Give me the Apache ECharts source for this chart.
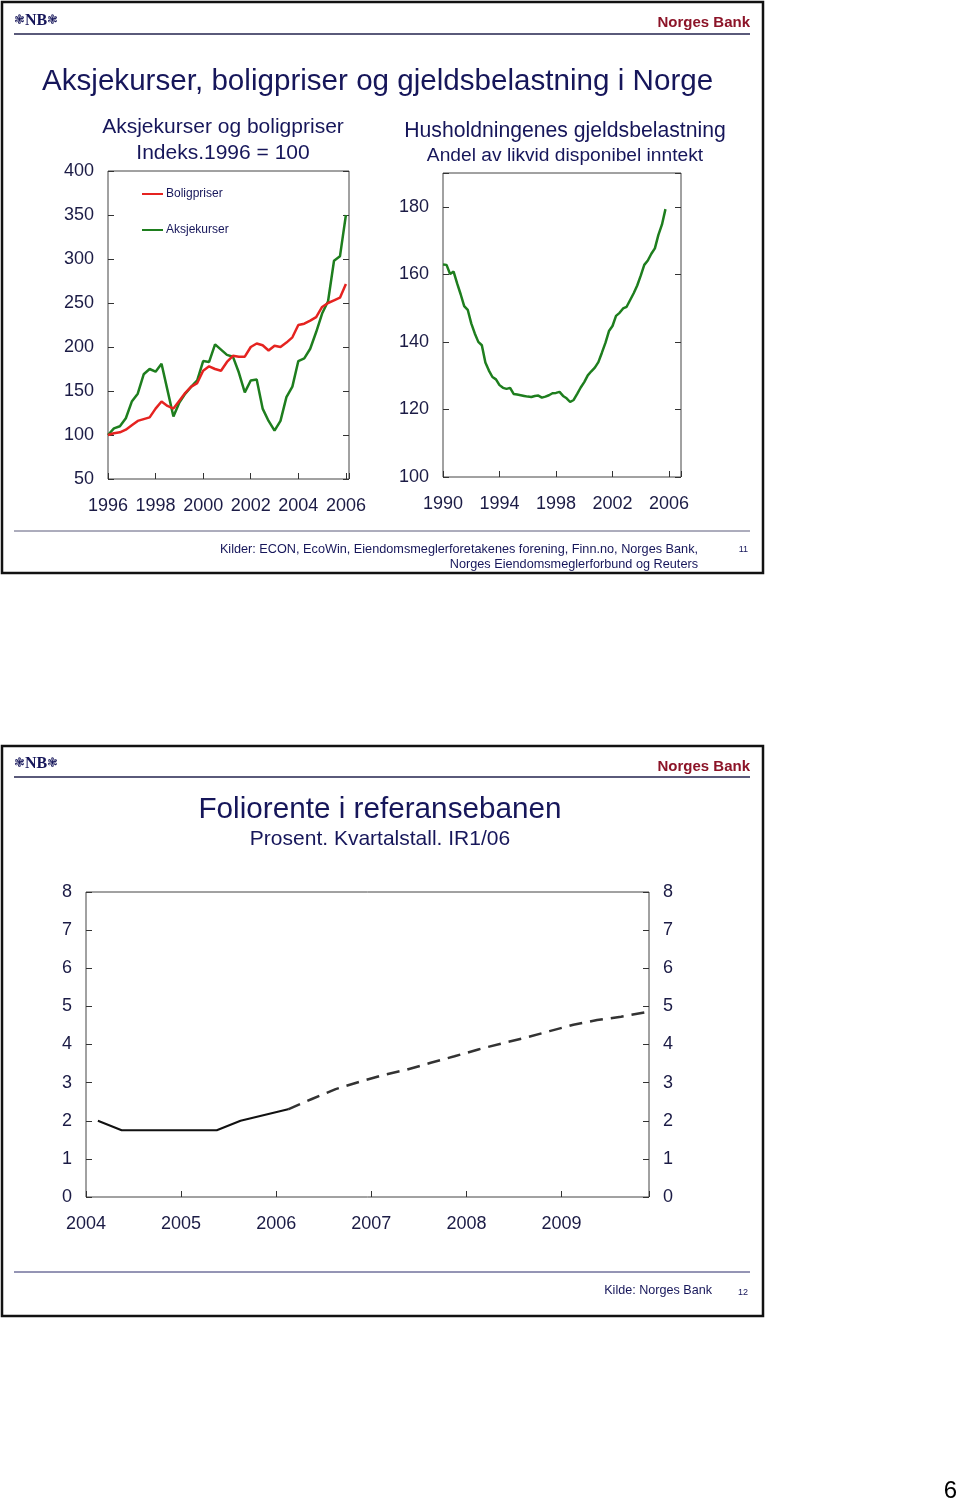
<!DOCTYPE html>
<html>
<head>
<meta charset="utf-8">
<title>Aksjekurser, boligpriser og foliorente</title>
<script src="https://cdn.jsdelivr.net/npm/echarts@6/dist/echarts.min.js"></script>
<style>
  html, body { margin: 0; padding: 0; background: #fff; }
  #main { width: 960px; height: 1501px; }
</style>
</head>
<body>
<div id="main"></div>
<script type="text/javascript">
// lysbilde 11: indeks 1996 = 100, kvartalstall 1996K1 - 2006K1
var boligpriser = [100, 102, 103, 106, 111, 116, 118, 120, 130, 138,
  133, 130, 139, 148, 155, 159, 173, 178, 175, 173,
  183, 190, 189, 189, 200, 204, 202, 196, 201.5, 200,
  205, 211, 225, 226.5, 230, 234, 245.5, 250, 253, 256, 271.5];
var aksjekurser = [100, 107.6, 110, 119, 138, 147, 169, 175, 172, 181,
  151, 121, 137, 147, 155, 162, 184, 183, 203, 197,
  191, 189, 171, 148.5, 162, 163, 130, 116, 105, 116,
  143, 155, 184, 187, 198, 217, 238, 252, 298, 303, 350];

// gjeldsbelastning, prosent av likvid disponibel inntekt, 1990K1 - 2005K4
var gjeld = [162.9, 162.8, 160.1, 160.8, 157.3, 154.1, 150.6, 149.5, 145.5, 142.5,
  140.0, 139.0, 133.9, 131.5, 129.6, 128.9, 127.2, 126.4, 126.1, 126.4,
  124.6, 124.4, 124.2, 124.0, 123.8, 123.7, 124.0, 124.1, 123.5, 123.8,
  124.2, 124.8, 124.9, 125.2, 124.0, 123.3, 122.2, 122.8, 124.6, 126.5,
  128.1, 130.1, 131.3, 132.4, 134.0, 136.8, 139.7, 143.2, 144.7, 147.7,
  148.6, 149.9, 150.4, 152.4, 154.4, 156.7, 159.6, 162.8, 164.1, 166.1,
  167.7, 171.7, 174.7, 179.3];

// lysbilde 12: foliorente, 2004K1 - 2009K4 (historisk t.o.m. 2006K1, deretter bane)
var foliorente = [2.0, 1.75, 1.75, 1.75, 1.75, 1.75, 2.0, 2.15, 2.3];
var referansebane = [2.3, 2.57, 2.83, 3.02, 3.2, 3.34, 3.52, 3.69, 3.87, 4.03,
  4.18, 4.35, 4.52, 4.64, 4.73, 4.84];

var yTicksLeft = [50, 400, 50];
var yTicksRight = [100, 190, 20];
var yTicksFolio = [0, 8, 1];

function kvartaler(startYear, n) {
  var out = [];
  for (var i = 0; i < n; i++) {
    out.push((startYear + Math.floor(i / 4)) + 'K' + (i % 4 + 1));
  }
  return out;
}
var kvLeft = kvartaler(1996, boligpriser.length);
var kvRight = kvartaler(1990, gjeld.length);
var kvFolio = kvartaler(2004, 24);

// kvartal -> desimalår (shift 0 = start på kvartalet, 0.5 = midt i)
function tilAar(label, shift) {
  var p = label.split('K');
  return +p[0] + (+p[1] - 1 + shift) / 4;
}
function par(labels, values, shift, offset) {
  offset = offset || 0;
  return values.map(function (v, i) { return [tilAar(labels[i + offset], shift), v]; });
}

var FONT = "'Liberation Sans', Arial, sans-serif";
var NAVY = '#16165a';
var TXT = '#1b1b45';

function heltall(v) {
  return Math.abs(v - Math.round(v)) < 1e-6 ? String(Math.round(v)) : '';
}

function xAkse(grid, min, max, step) {
  return {
    type: 'value', gridIndex: grid, min: min, max: max, interval: step,
    axisLine: { show: false },
    axisTick: { inside: true, length: 6, lineStyle: { color: '#333' } },
    axisLabel: { color: TXT, fontSize: 18, fontFamily: FONT, margin: 18, formatter: heltall },
    splitLine: { show: false }
  };
}
function yAkse(grid, t, pos, labels) {
  return {
    type: 'value', gridIndex: grid, position: pos,
    min: t[0], max: t[1], interval: t[2],
    axisLine: { show: false },
    axisTick: { show: true, inside: true, length: 6, lineStyle: { color: '#333' } },
    axisLabel: {
      show: labels, color: TXT, fontSize: 18, fontFamily: FONT, margin: 14,
      padding: [4, 0, 0, 0],
      formatter: function (v) { return (v - t[0]) % t[2] === 0 ? String(v) : ''; }
    },
    splitLine: { show: false }
  };
}

function tekst(x, y, s, size, opts) {
  opts = opts || {};
  return {
    type: 'text', x: x, y: y + 1.5, silent: true,
    style: {
      text: s,
      font: (opts.bold ? 'bold ' : '') + size + 'px ' + (opts.family || FONT),
      fill: opts.color || NAVY,
      align: opts.align || 'left', textAlign: opts.align || 'left',
      verticalAlign: 'middle', textVerticalAlign: 'middle'
    }
  };
}
function linje(x1, y1, x2, y2, color, w) {
  return { type: 'line', silent: true, shape: { x1: x1, y1: y1, x2: x2, y2: y2 },
    style: { stroke: color, lineWidth: w } };
}
function logo(x, y) {
  return {
    type: 'text', x: x, y: y, silent: true,
    style: {
      text: '{o|❃}{n|NB}{o|❃}',
      verticalAlign: 'middle', textVerticalAlign: 'middle',
      rich: {
        o: { fontSize: 13, fill: NAVY, fontFamily: 'DejaVu Sans' },
        n: { fontSize: 16, fill: NAVY, fontWeight: 'bold', fontFamily: "'Liberation Serif', serif" }
      }
    }
  };
}

var myChart = echarts.init(document.getElementById('main'));

var option = {
  animation: false,
  backgroundColor: '#fff',
  grid: [
    { left: 108, top: 171, width: 241, height: 308, show: true, borderColor: '#444', borderWidth: 1 },
    { left: 443, top: 173, width: 238, height: 304, show: true, borderColor: '#444', borderWidth: 1 },
    { left: 86, top: 892, width: 563, height: 305, show: true, borderColor: '#444', borderWidth: 1 }
  ],
  xAxis: [
    xAkse(0, 1996, 2006.13, 2),
    xAkse(1, 1990, 2006.85, 4),
    xAkse(2, 2004, 2009.92, 1)
  ],
  yAxis: [
    yAkse(0, yTicksLeft, 'left', true),
    yAkse(0, yTicksLeft, 'right', false),
    yAkse(1, yTicksRight, 'left', true),
    yAkse(1, yTicksRight, 'right', false),
    yAkse(2, yTicksFolio, 'left', true),
    yAkse(2, yTicksFolio, 'right', true)
  ],
  legend: [{
    data: ['Boligpriser', 'Aksjekurser'],
    orient: 'vertical', left: 142, top: 188, itemGap: 24, padding: 0,
    icon: 'rect', itemWidth: 21, itemHeight: 2,
    textStyle: { color: NAVY, fontSize: 12, fontFamily: FONT, padding: [0, 0, 0, -2] }
  }],
  series: [
    {
      name: 'Aksjekurser', type: 'line', xAxisIndex: 0, yAxisIndex: 0,
      data: par(kvLeft, aksjekurser, 0), symbol: 'none', color: '#1e7e1e',
      lineStyle: { color: '#1e7e1e', width: 2.5 }
    },
    {
      name: 'Boligpriser', type: 'line', xAxisIndex: 0, yAxisIndex: 0,
      data: par(kvLeft, boligpriser, 0), symbol: 'none', color: '#e52320',
      lineStyle: { color: '#e52320', width: 2.5 }
    },
    {
      name: 'Gjeldsbelastning', type: 'line', xAxisIndex: 1, yAxisIndex: 2,
      data: par(kvRight, gjeld, 0), symbol: 'none',
      lineStyle: { color: '#1e7e1e', width: 2.5 }
    },
    {
      name: 'Foliorente', type: 'line', xAxisIndex: 2, yAxisIndex: 4,
      data: par(kvFolio, foliorente, 0.5), symbol: 'none',
      lineStyle: { color: '#111', width: 2 }
    },
    {
      name: 'Referansebane', type: 'line', xAxisIndex: 2, yAxisIndex: 4,
      data: par(kvFolio, referansebane, 0.5, foliorente.length - 1), symbol: 'none',
      lineStyle: { color: '#333', width: 2.5, type: [13, 8] }
    }
  ],
  graphic: [
    // ramme lysbilde 11
    { type: 'rect', silent: true, shape: { x: 2, y: 2, width: 761, height: 571 },
      style: { fill: null, stroke: '#111', lineWidth: 2.5 } },
    logo(14, 21),
    tekst(750, 21, 'Norges Bank', 15, { bold: true, color: '#8c1428', align: 'right' }),
    linje(14, 34, 750, 34, '#5a5a7a', 2),
    tekst(42, 80, 'Aksjekurser, boligpriser og gjeldsbelastning i Norge', 29.6),
    tekst(223, 126, 'Aksjekurser og boligpriser', 21, { align: 'center' }),
    tekst(223, 152, 'Indeks.1996 = 100', 21, { align: 'center' }),
    tekst(565, 130, 'Husholdningenes gjeldsbelastning', 21.2, { align: 'center' }),
    tekst(565, 154, 'Andel av likvid disponibel inntekt', 19.2, { align: 'center' }),
    linje(14, 531, 750, 531, '#5a5a7a', 1),
    tekst(698, 548, 'Kilder: ECON, EcoWin, Eiendomsmeglerforetakenes forening, Finn.no, Norges Bank,', 12.7, { align: 'right' }),
    tekst(698, 563, 'Norges Eiendomsmeglerforbund og Reuters', 12.7, { align: 'right' }),
    tekst(748, 548, '11', 9, { align: 'right' }),

    // ramme lysbilde 12
    { type: 'rect', silent: true, shape: { x: 2, y: 746, width: 761, height: 570 },
      style: { fill: null, stroke: '#111', lineWidth: 2.5 } },
    logo(14, 764),
    tekst(750, 765, 'Norges Bank', 15, { bold: true, color: '#8c1428', align: 'right' }),
    linje(14, 777, 750, 777, '#5a5a7a', 2),
    tekst(380, 808, 'Foliorente i referansebanen', 29.7, { align: 'center' }),
    tekst(380, 838, 'Prosent. Kvartalstall. IR1/06', 21, { align: 'center' }),
    linje(14, 1272, 750, 1272, '#2a2a6a', 1),
    tekst(712, 1289, 'Kilde: Norges Bank', 12.6, { align: 'right' }),
    tekst(748, 1291, '12', 9, { align: 'right' }),

    // sidetall
    tekst(957, 1490, '6', 24, { align: 'right', color: '#000' })
  ]
};

myChart.setOption(option);
</script>
</body>
</html>
